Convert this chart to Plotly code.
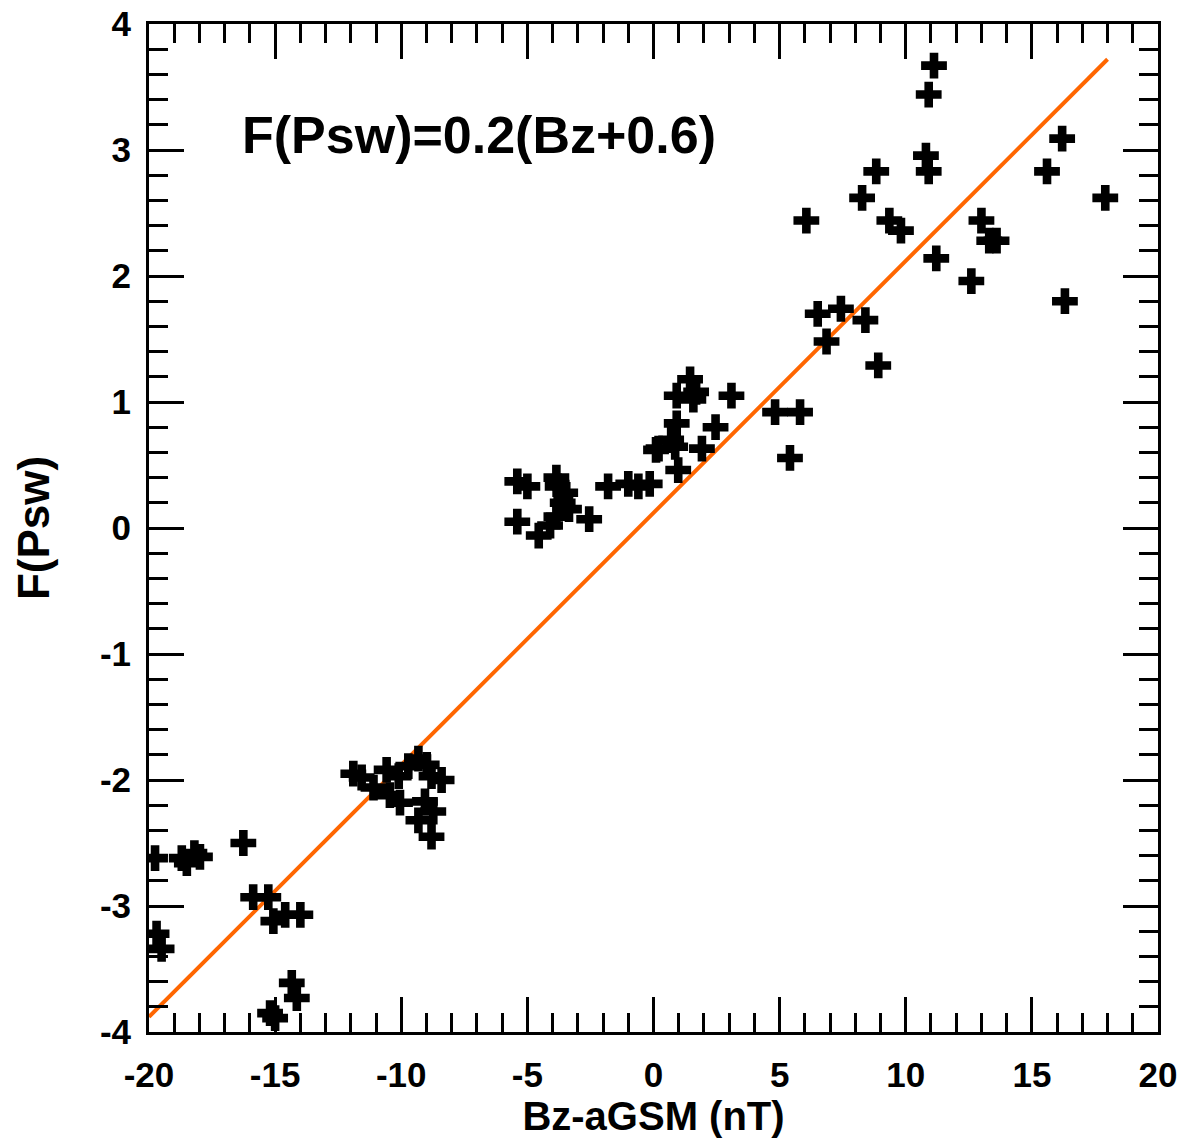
import plotly.graph_objects as go

# Data
bz = [
    11.12, 10.91, 10.8, 10.91, 8.83, 8.27, 6.06, 9.35, 9.81, 11.21, 12.6, 13.0, 13.31, 13.6,
    16.2, 15.6, 17.91, 16.31, 6.51, 7.43, 8.40, 6.86, 8.91,
    4.82, 5.81, 5.41,
    1.45, 1.69, 0.92, 1.58, 3.09, 0.92, 2.46, 0.2, 0.86, 1.92, 0.98, 0.1, 0.7,
    -5.4, -5.0, -5.4, -3.85, -3.8, -3.5, -3.35, -4.55, -4.1, -3.85, -3.6, -2.55, -1.8, -1.0, -0.6, -0.15,
    -11.9, -11.57, -11.1, -10.58, -10.45, -10.1, -10.05, -9.72, -9.32, -8.99, -8.4, -8.8, -9.06, -8.73, -9.32, -8.8,
    -19.76, -18.7, -18.5, -17.98, -18.2, -16.26, -15.87, -15.27, -15.07, -14.6, -14.0,
    -19.7, -19.5, -14.34, -14.14, -15.2, -15.0,
]
fpsw = [
    3.67, 3.44, 2.955, 2.83, 2.83, 2.62, 2.44, 2.44, 2.36, 2.14, 1.96, 2.44, 2.28, 2.28,
    3.09, 2.83, 2.62, 1.80, 1.70, 1.74, 1.65, 1.48, 1.29,
    0.92, 0.92, 0.556,
    1.18, 1.08, 1.05, 1.02, 1.05, 0.83, 0.80, 0.63, 0.645, 0.63, 0.46, 0.62, 0.70,
    0.37, 0.33, 0.05, 0.40, 0.33, 0.28, 0.15, -0.06, 0.02, 0.09, 0.20, 0.07, 0.33, 0.35, 0.33, 0.35,
    -1.95, -1.98, -2.06, -1.92, -2.12, -1.97, -2.18, -1.89, -1.83, -1.88, -2.0, -1.97, -2.17, -2.25, -2.32, -2.45,
    -2.62, -2.62, -2.66, -2.61, -2.58, -2.5, -2.93, -2.93, -3.12, -3.07, -3.07,
    -3.22, -3.34, -3.61, -3.73, -3.85, -3.89,
]

fit_x = [-20, 18]
fit_slope = 0.2
fit_offset = 0.6
fit_y = [fit_slope * (v + fit_offset) for v in fit_x]

xtick_vals = [-20, -15, -10, -5, 0, 5, 10, 15, 20]
xtick_text = ["-20", "-15", "-10", "-5", "0", "5", "10", "15", "20"]
ytick_vals = [-4, -3, -2, -1, 0, 1, 2, 3, 4]
ytick_text = ["-4", "-3", "-2", "-1", "0", "1", "2", "3", "4"]

FONT = "Liberation Sans"

fig = go.Figure()
fig.add_trace(go.Scatter(
    x=fit_x, y=fit_y, mode="lines",
    line=dict(color="#FF6600", width=4), showlegend=False, hoverinfo="skip"))
fig.add_trace(go.Scatter(
    x=bz, y=fpsw, mode="markers",
    marker=dict(symbol="cross", size=21.5, color="black", line=dict(width=0)),
    showlegend=False))

fig.add_annotation(
    x=-16.4, y=3.12, xref="x", yref="y", xanchor="left", yanchor="middle",
    text="F(Psw)=0.2(Bz+0.6)", showarrow=False,
    font=dict(family=FONT, size=52, color="black", weight="bold"))

axis_common = dict(
    showline=True, linecolor="black", linewidth=3, mirror="ticks",
    ticks="inside", ticklen=35, tickwidth=3, tickcolor="black",
    showgrid=False, zeroline=False, automargin=False,
    tickfont=dict(family=FONT, size=35, color="black", weight="bold"),
)

fig.update_xaxes(
    range=[-20, 20], tickmode="array", tickvals=xtick_vals, ticktext=xtick_text,
    minor=dict(ticks="inside", dtick=1, ticklen=19, tickwidth=3, tickcolor="black", showgrid=False),
    title=dict(text="Bz-aGSM (nT)", font=dict(family=FONT, size=40, color="black", weight="bold"), standoff=8),
    ticklabelstandoff=10,
    **axis_common)
fig.update_yaxes(
    range=[-4, 4], tickmode="array", tickvals=ytick_vals, ticktext=ytick_text,
    minor=dict(ticks="inside", dtick=0.2, ticklen=19, tickwidth=3, tickcolor="black", showgrid=False),
    title=dict(text="F(Psw)", font=dict(family=FONT, size=44, color="black", weight="bold"), standoff=37),
    ticklabelstandoff=8,
    **axis_common)

fig.update_layout(
    width=1191, height=1144,
    margin=dict(l=149, r=33, t=24, b=112),
    plot_bgcolor="white", paper_bgcolor="white",
)

fig.write_html("out.html")
